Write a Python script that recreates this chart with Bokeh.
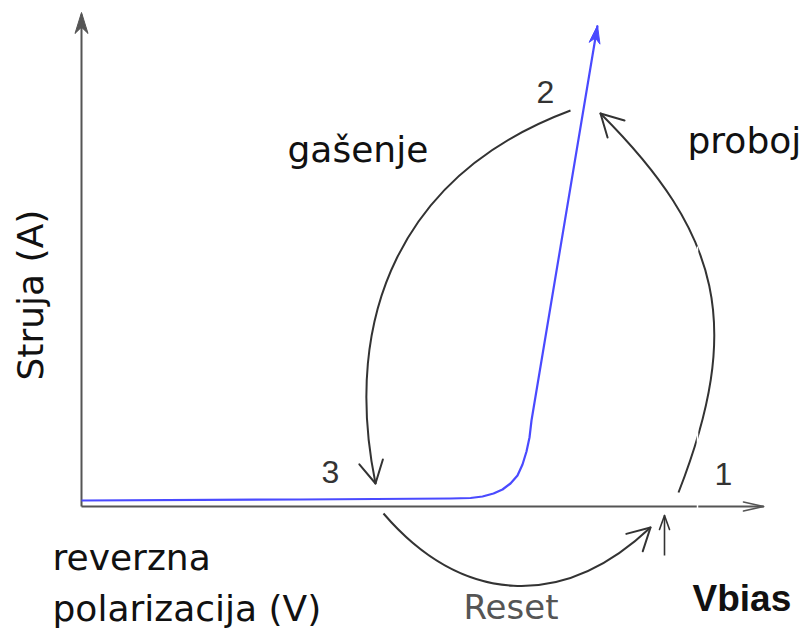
import math

from bokeh.plotting import figure
from bokeh.models import Range1d
from bokeh.core.properties import value
from bokeh.embed import file_html
from bokeh.resources import INLINE

# I-V characteristic of the diode in reverse bias (schematic units,
# origin at the crossing of the two axes)
bias_v = [0, 219, 369, 389, 401, 412, 421, 429, 436, 441, 445, 448, 450, 516]
current_i = [6, 7, 8, 8.5, 10, 13, 17, 23, 31, 42, 55, 69, 86, 481]

# operating states of the cycle
state_labels = ["1", "2", "3"]
step_labels = ["proboj", "gašenje", "Reset"]

AXIS_COLOR = "#555555"
ARC_COLOR = "#333333"
CURVE_COLOR = "#4a4aff"
GOTHIC = value("DejaVu Sans")

p = figure(width=805, height=632, output_backend="svg", toolbar_location=None,
           x_axis_type=None, y_axis_type=None, min_border=0,
           x_range=Range1d(-81, 724), y_range=Range1d(-126, 506))
p.grid.visible = False
p.outline_line_color = None
p.background_fill_color = "white"
p.border_fill_color = "white"


def head_points(tip, direction, length, half_width):
    dx, dy = direction
    n = math.hypot(dx, dy)
    ux, uy = dx / n, dy / n
    bx, by = tip[0] - ux * length, tip[1] - uy * length
    nx, ny = -uy, ux
    left = (bx + nx * half_width, by + ny * half_width)
    right = (bx - nx * half_width, by - ny * half_width)
    back = (tip[0] - ux * length * 0.7, tip[1] - uy * length * 0.7)
    return left, right, back


def open_head(tip, direction, length, half_width, color, width=2):
    left, right, _ = head_points(tip, direction, length, half_width)
    p.segment(x0=[left[0], right[0]], y0=[left[1], right[1]],
              x1=[tip[0], tip[0]], y1=[tip[1], tip[1]],
              line_color=color, line_width=width, line_cap="round")


def solid_head(tip, direction, length, half_width, color):
    left, right, back = head_points(tip, direction, length, half_width)
    p.patch(x=[tip[0], left[0], back[0], right[0]],
            y=[tip[1], left[1], back[1], right[1]],
            fill_color=color, line_color=color, line_width=1)


# axes drawn as arrows
p.line(x=[0, 682], y=[0, 0], line_color=AXIS_COLOR, line_width=2)
open_head((682, 0), (1, 0), 20, 4.5, AXIS_COLOR, 1.6)
p.line(x=[0, 0], y=[0, 492], line_color=AXIS_COLOR, line_width=2)
solid_head((0, 494), (0, 1), 21, 6.5, AXIS_COLOR)

# the I-V curve
p.line(x=bias_v, y=current_i, line_color=CURVE_COLOR, line_width=2.2,
       line_join="round")
solid_head((bias_v[-1], current_i[-1]),
           (bias_v[-1] - bias_v[-2], current_i[-1] - current_i[-2]),
           18, 5.5, CURVE_COLOR)

# cycle arrows: start, control 1, control 2, end
arcs = {
    "proboj": ((597, 14), (662, 181), (640, 272), (519, 393)),
    "gašenje": ((489, 396), (320, 333), (260, 190), (294, 23)),
    "Reset": ((302, -7), (380, -98), (481, -104), (569, -21)),
}
for name in step_labels:
    a, c1, c2, b = arcs[name]
    p.bezier(x0=[a[0]], y0=[a[1]], x1=[b[0]], y1=[b[1]],
             cx0=[c1[0]], cy0=[c1[1]], cx1=[c2[0]], cy1=[c2[1]],
             line_color=ARC_COLOR, line_width=2)
    open_head(b, (b[0] - c2[0], b[1] - c2[1]), 22, 12, ARC_COLOR)

# bias marker below the axis
p.line(x=[583, 583], y=[-49, -10], line_color=ARC_COLOR, line_width=1.6)
open_head((583, -9), (0, 1), 14, 5, ARC_COLOR, 1.6)

# thin light seam crossing the axis and the breakdown arrow
p.segment(x0=[616], y0=[-3], x1=[616], y1=[260], line_color="white",
          line_width=1.5)

# state numbers
p.text(x=[633, 455, 240], y=[33, 415, 35], text=state_labels,
       text_font=value("Liberation Sans"), text_font_size="32px",
       text_color="#333333", text_baseline="alphabetic", text_align="left")

# step names
p.text(x=[606, 206], y=[366, 357], text=step_labels[:2], text_font=GOTHIC,
       text_font_size="36px", text_color="#111111",
       text_baseline="alphabetic", text_align="left")
p.text(x=[382], y=[-100], text=[step_labels[2]], text_font=GOTHIC,
       text_font_size="34px", text_color="#555555",
       text_baseline="alphabetic", text_align="left")

# axis titles
p.text(x=[-51], y=[126], text=["Struja (A)"], angle=math.pi / 2,
       text_font=GOTHIC, text_font_size="36px", text_color="#111111",
       text_baseline="alphabetic", text_align="left")
p.text(x=[-29, -29], y=[-51, -102], text=["reverzna", "polarizacija (V)"],
       text_font=GOTHIC, text_font_size="36px", text_color="#111111",
       text_baseline="alphabetic", text_align="left")
p.text(x=[611], y=[-92], text=["Vbias"], text_font=value("Liberation Sans"),
       text_font_size="37px", text_font_style="bold", text_color="#111111",
       text_baseline="alphabetic", text_align="left")

open("out.html", "w").write(file_html(p, INLINE))
